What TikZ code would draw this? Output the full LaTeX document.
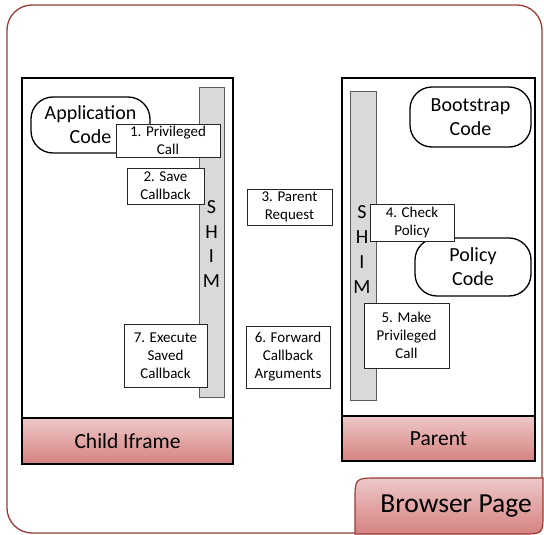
\documentclass[tikz,border=0pt]{standalone}
\usepackage{fontspec}
\setmainfont{Carlito}
\definecolor{framered}{RGB}{150,58,54}
\definecolor{barTop}{RGB}{238,200,200}
\definecolor{barBot}{RGB}{212,130,128}
\definecolor{shimgray}{RGB}{217,217,217}
\definecolor{shimline}{RGB}{90,90,90}
\tikzset{
  frame/.style={draw=framered, line width=1.3pt, rounded corners=25pt},
  container/.style={draw=black, line width=1.5pt, fill=white},
  labelbar/.style={draw=black, line width=1.5pt, top color=barTop, bottom color=barBot},
  tab/.style={draw=framered, line width=1.2pt, top color=barTop, bottom color=barBot},
  shim/.style={draw=shimline, line width=0.8pt, fill=shimgray},
  bigtext/.style={font=\fontsize{20}{24.8}\selectfont, align=center, inner sep=0pt},
  codebox/.style={draw=black, line width=1.3pt, rounded corners=22pt, fill=white, inner sep=0pt,
     font=\fontsize{20}{24}\selectfont, align=center},
  stepbox/.style={draw=black!85, line width=0.7pt, fill=white, inner sep=0pt, align=center,
     font=\fontsize{15}{18}\selectfont},
}
\begin{document}
\begin{tikzpicture}[x=1pt,y=-1pt]
\useasboundingbox (0,0) rectangle (544,535);
% outer browser frame
\draw[frame] (7,5) rectangle (542,533);
% containers
\draw[container] (22,78) rectangle (233,418);
\draw[container] (342,78) rectangle (535,416);
\draw[labelbar] (22,418) rectangle (233,464);
\draw[labelbar] (342,416) rectangle (535,461);
\node[font=\fontsize{21.5}{26}\selectfont] (childlbl) at (127.5,441.5) {Child Iframe};
\node[font=\fontsize{21.5}{26}\selectfont] (parentlbl) at (438.5,438.5) {Parent};
% shims
\draw[shim] (199,87) rectangle (224,397);
\draw[shim] (350,91) rectangle (376,400);
\node[bigtext] (shimL) at (211.5,244) {S\\H\\I\\M};
\node[bigtext] (shimR) at (362,249.5) {S\\H\\I\\M};
% code boxes
\node[codebox, minimum width=119pt, minimum height=56pt] (app) at (90.5,125) {Application\\Code};
\node[codebox, minimum width=121pt, minimum height=60pt] (boot) at (470.5,117) {Bootstrap\\Code};
\node[codebox, minimum width=116pt, minimum height=58pt] (policy) at (473,267) {Policy\\Code};
% steps
\node[stepbox, minimum width=104pt, minimum height=33pt] (s1) at (168,140.5) {1. Privileged\\Call};
\node[stepbox, minimum width=77pt, minimum height=36pt] (s2) at (165.5,186) {2. Save\\Callback};
\node[stepbox, minimum width=85pt, minimum height=36pt] (s3) at (289.5,207) {3. Parent\\Request};
\node[stepbox, minimum width=84pt, minimum height=37pt] (s4) at (412,222.5) {4. Check\\Policy};
\node[stepbox, minimum width=85pt, minimum height=65pt] (s5) at (406.5,335.5) {5. Make\\Privileged\\Call};
\node[stepbox, minimum width=84pt, minimum height=62pt] (s6) at (288,357) {6. Forward\\Callback\\Arguments};
\node[stepbox, minimum width=83pt, minimum height=63pt] (s7) at (165.5,355.5) {7. Execute\\Saved\\Callback};
% browser page tab
\draw[tab] (355,534) -- (355,501) .. controls (355,478) .. (378,478) -- (543,478)
   -- (543,513) .. controls (543,534) .. (522,534) -- cycle;
\node[font=\fontsize{27.5}{32}\selectfont] (browser) at (456,506) {Browser Page};
\end{tikzpicture}
\end{document}
